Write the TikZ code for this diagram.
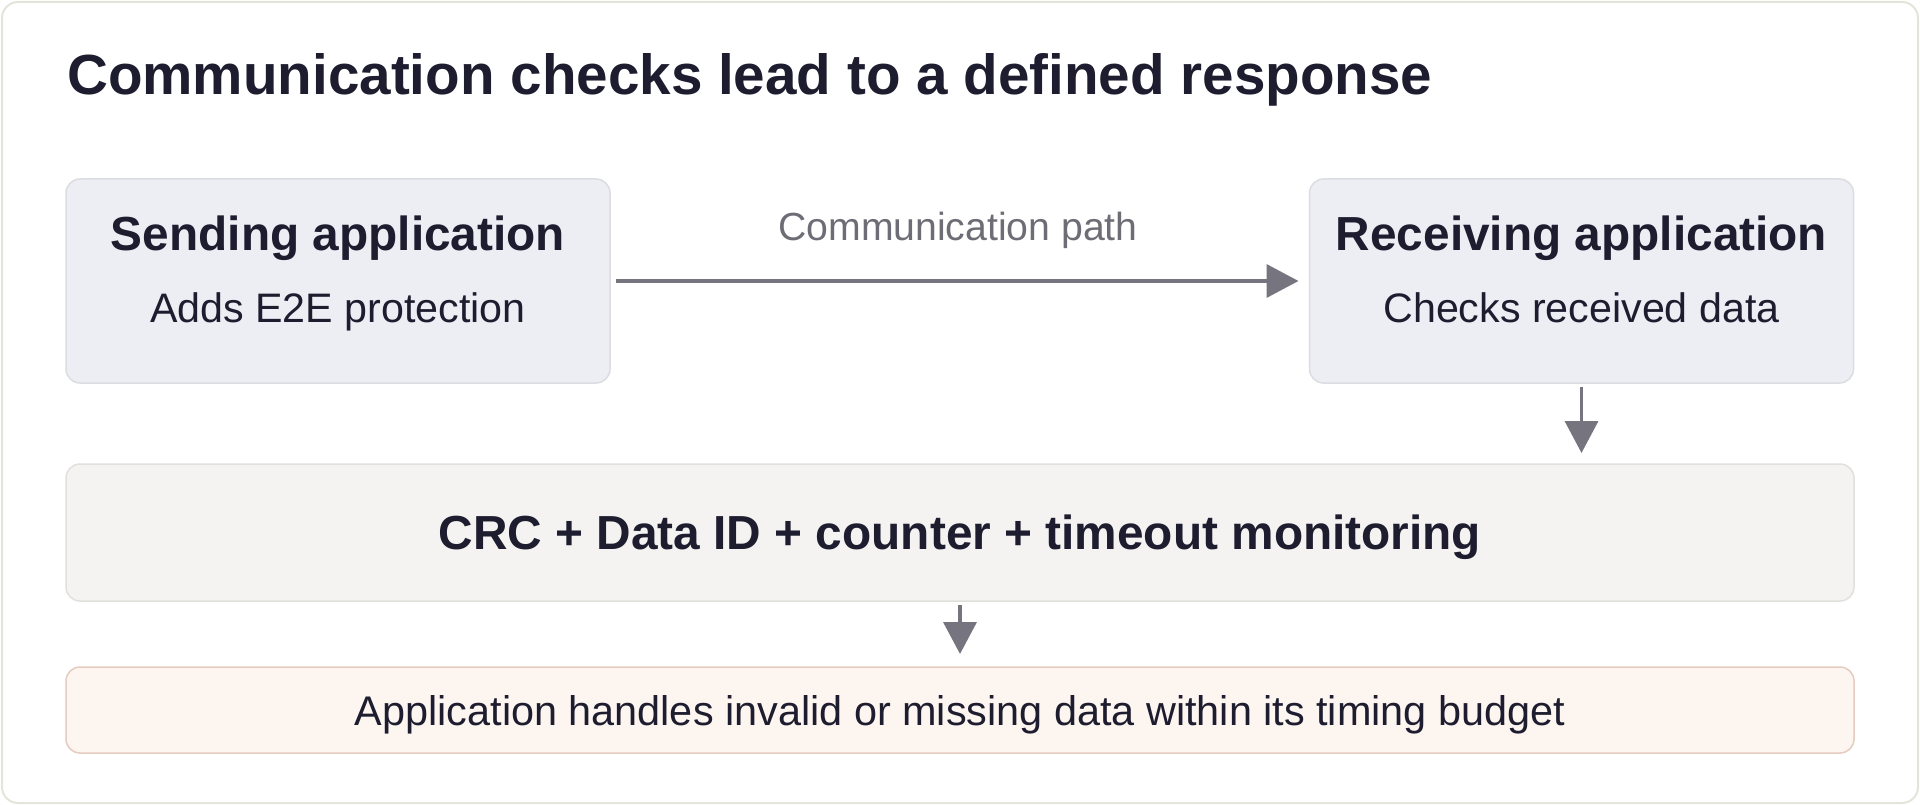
\documentclass[tikz,border=0pt]{standalone}
\usepackage{fontspec}
\setmainfont{Liberation Sans}
\usetikzlibrary{arrows.meta}
\definecolor{ink}{HTML}{1E1D2F}
\definecolor{muted}{HTML}{6E6D76}
\definecolor{arrowc}{HTML}{76757F}
\definecolor{outerb}{HTML}{E4E4DA}
\definecolor{appfill}{HTML}{EDEDF4}
\definecolor{appline}{HTML}{DCDCE3}
\definecolor{chkfill}{HTML}{F4F3F1}
\definecolor{chkline}{HTML}{E1E0DB}
\definecolor{resfill}{HTML}{FDF5F0}
\definecolor{resline}{HTML}{E5CBC0}
\tikzset{
  boxbase/.style={rectangle, rounded corners=14pt, inner sep=0pt, outer sep=0pt, line width=1.5pt},
  appbox/.style={boxbase, fill=appfill, draw=appline, minimum width=544pt, minimum height=204pt},
  chkbox/.style={boxbase, fill=chkfill, draw=chkline, minimum width=1788pt, minimum height=137pt},
  resbox/.style={boxbase, fill=resfill, draw=resline, minimum width=1788pt, minimum height=86pt},
  headtxt/.style={text=ink, font=\fontsize{47.8}{56}\selectfont\bfseries, anchor=base, inner sep=0pt},
  subtxt/.style={text=ink, font=\fontsize{41.2}{48}\selectfont, anchor=base, inner sep=0pt},
  arr/.style={draw=arrowc, line width=3.6pt, -{Triangle[length=32pt,width=33pt]}},
}
\begin{document}
\begin{tikzpicture}[x=1pt,y=-1pt]
\useasboundingbox (0,0) rectangle (1920,805);
\draw[fill=white, draw=outerb, line width=2pt, rounded corners=16pt] (2,2) rectangle (1918,803);
\node[text=ink, font=\fontsize{56.6}{64}\selectfont\bfseries, anchor=base west, inner sep=0pt] (title) at (67,95) {Communication checks lead to a defined response};

\node[appbox] (send) at (338,281) {};
\node[appbox] (recv) at (1581.5,281) {};
\node[chkbox] (chk) at (960,532.5) {};
\node[resbox] (res) at (960,710) {};

\node[headtxt] (sendh) at (338,251) {Sending application};
\node[subtxt] (sends) at (338,322) {Adds E2E protection};
\node[headtxt] (recvh) at (1581.5,251) {Receiving application};
\node[subtxt] (recvs) at (1581.5,322) {Checks received data};
\node[headtxt] (chkt) at (960,549) {CRC + Data ID + counter + timeout monitoring};
\node[subtxt, font=\fontsize{41.4}{48}\selectfont] (rest) at (960,725) {Application handles invalid or missing data within its timing budget};
\node[text=muted, font=\fontsize{39.2}{46}\selectfont, anchor=base, inner sep=0pt] (path) at (958,241) {Communication path};

\draw[arr, shorten <=6pt, shorten >=11pt] (send.east) -- (recv.west);
\draw[arr, shorten <=4pt, shorten >=11pt] (recv.south) -- (recv.south |- chk.north);
\draw[arr, shorten <=4pt, shorten >=13pt] (chk.south) -- (res.north);
\end{tikzpicture}
\end{document}
